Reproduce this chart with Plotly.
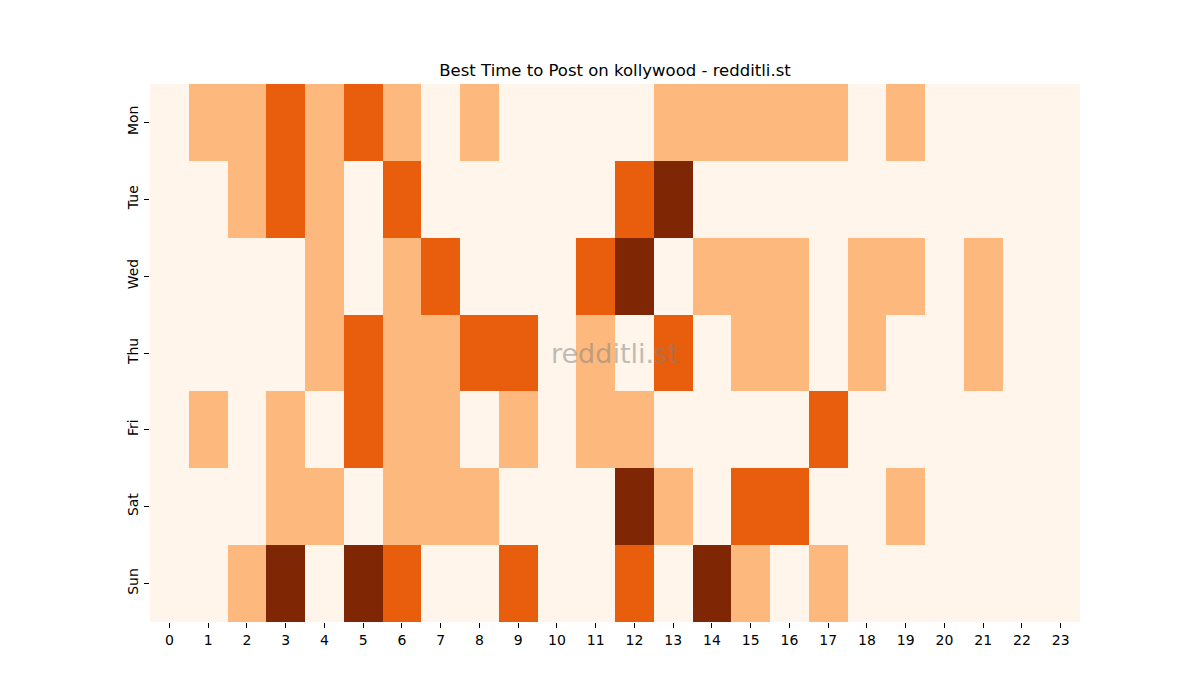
import plotly.graph_objects as go

# posting activity level per day/hour (0 = none .. 3 = best)
days = ["Mon", "Tue", "Wed", "Thu", "Fri", "Sat", "Sun"]
hours = list(range(24))

mon = [0, 1, 1, 2, 1, 2, 1, 0, 1, 0, 0, 0, 0, 1, 1, 1, 1, 1, 0, 1, 0, 0, 0, 0]
tue = [0, 0, 1, 2, 1, 0, 2, 0, 0, 0, 0, 0, 2, 3, 0, 0, 0, 0, 0, 0, 0, 0, 0, 0]
wed = [0, 0, 0, 0, 1, 0, 1, 2, 0, 0, 0, 2, 3, 0, 1, 1, 1, 0, 1, 1, 0, 1, 0, 0]
thu = [0, 0, 0, 0, 1, 2, 1, 1, 2, 2, 0, 1, 0, 2, 0, 1, 1, 0, 1, 0, 0, 1, 0, 0]
fri = [0, 1, 0, 1, 0, 2, 1, 1, 0, 1, 0, 1, 1, 0, 0, 0, 0, 2, 0, 0, 0, 0, 0, 0]
sat = [0, 0, 0, 1, 1, 0, 1, 1, 1, 0, 0, 0, 3, 1, 0, 2, 2, 0, 0, 1, 0, 0, 0, 0]
sun = [0, 0, 1, 3, 0, 3, 2, 0, 0, 2, 0, 0, 2, 0, 3, 1, 0, 1, 0, 0, 0, 0, 0, 0]

z = [mon, tue, wed, thu, fri, sat, sun]

# Oranges-like discrete scale, one band per level 0..3
scale = [
    [0.0, "#fff5eb"], [0.1667, "#fff5eb"],
    [0.1667, "#fdb97d"], [0.5, "#fdb97d"],
    [0.5, "#e95e0d"], [0.8333, "#e95e0d"],
    [0.8333, "#7f2704"], [1.0, "#7f2704"],
]

fig = go.Figure()
fig.add_trace(go.Heatmap(
    z=z, x=hours, y=days,
    colorscale=scale, zmin=0, zmax=3,
    showscale=False, xgap=0, ygap=0,
))

fig.update_layout(
    width=1200, height=700,
    paper_bgcolor="white", plot_bgcolor="white",
    margin=dict(l=142, r=128, t=76, b=86),
    font=dict(family="DejaVu Sans", size=14, color="black"),
    title=dict(text="Best Time to Post on kollywood - redditli.st",
               xref="paper", x=0.5, xanchor="center",
               y=1 - 62 / 700, yanchor="middle",
               font=dict(size=16.5, color="black")),
    showlegend=False,
)
fig.update_xaxes(
    tickmode="array", tickvals=hours, ticktext=[str(h) for h in hours],
    ticks="outside", ticklen=5, tickcolor="black", showgrid=False,
    zeroline=False, showline=False, range=[-0.5, 23.5],
)
fig.update_yaxes(
    autorange="reversed", ticks="outside", ticklen=5, tickcolor="black",
    tickangle=-90, showgrid=False, zeroline=False, showline=False,
)
fig.add_annotation(
    text="redditli.st", x=0.5, y=0.5, xref="paper", yref="paper",
    showarrow=False, font=dict(size=27, color="rgba(128,128,128,0.5)"),
)

fig.write_html("out.html")
